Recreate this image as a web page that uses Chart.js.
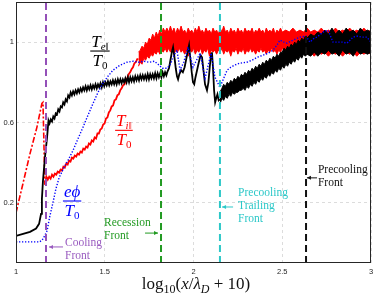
<!DOCTYPE html>
<html><head><meta charset="utf-8">
<script src="https://cdn.jsdelivr.net/npm/chart.js@4/dist/chart.umd.min.js"></script>
<style>html,body{margin:0;padding:0;background:#fff;}canvas{display:block;}</style>
</head><body>
<canvas id="c" width="374" height="295"></canvas>
<script>
// ---------- data ----------
const xTicks = [1, 1.5, 2, 2.5, 3];
const yTicks = [0.2, 0.6, 1];
const xMin = 1, xMax = 3, yMin = -0.1, yMax = 1.2;
const frontNames = ['Cooling', 'Recession', 'Precooling Trailing', 'Precooling'];
const frontX = [1.169, 1.817, 2.149, 2.634];

// electron temperature T_e|| / T0  (thin noisy part) [x, y]
const teLine = [[1.000,0.035],[1.040,0.045],[1.079,0.055],[1.113,0.072],[1.130,0.095],[1.141,0.145],[1.146,0.22],[1.152,0.31],[1.163,0.425],[1.175,0.525],[1.183,0.61],[1.189,0.595],[1.196,0.615],[1.203,0.605],[1.210,0.63],[1.217,0.62],[1.224,0.645],[1.231,0.64],[1.238,0.665],[1.245,0.655],[1.252,0.68],[1.259,0.675],[1.266,0.70],[1.273,0.69],[1.280,0.715],[1.287,0.705],[1.294,0.735],[1.301,0.725],[1.308,0.75],[1.315,0.735],[1.322,0.755],[1.329,0.74],[1.336,0.76],[1.343,0.745],[1.350,0.765],[1.357,0.75],[1.364,0.77],[1.371,0.755],[1.378,0.775],[1.385,0.76],[1.392,0.78],[1.399,0.76],[1.406,0.78],[1.413,0.765],[1.420,0.785],[1.427,0.765],[1.434,0.785],[1.441,0.77],[1.448,0.79],[1.455,0.77],[1.462,0.79],[1.469,0.775],[1.476,0.795],[1.483,0.775],[1.490,0.80],[1.497,0.78],[1.504,0.80],[1.511,0.785],[1.518,0.805],[1.525,0.785],[1.532,0.805],[1.539,0.79],[1.546,0.81],[1.553,0.79],[1.560,0.81],[1.567,0.79],[1.574,0.815],[1.581,0.795],[1.588,0.815],[1.595,0.795],[1.602,0.815],[1.609,0.80],[1.616,0.82],[1.623,0.80],[1.630,0.825],[1.637,0.80],[1.644,0.825],[1.651,0.805],[1.658,0.825],[1.665,0.805],[1.672,0.83],[1.679,0.81],[1.686,0.83],[1.693,0.81],[1.700,0.835],[1.707,0.815],[1.714,0.835],[1.721,0.815],[1.728,0.835],[1.735,0.815],[1.742,0.84],[1.749,0.815],[1.756,0.84],[1.763,0.82],[1.770,0.84],[1.777,0.82],[1.784,0.845],[1.791,0.82],[1.798,0.845],[1.805,0.825],[1.812,0.845],[1.819,0.825],[1.826,0.85],[1.833,0.83],[1.840,0.85],[1.847,0.835],[1.854,0.855],[1.862,0.87],[1.870,0.91],[1.878,0.95],[1.885,0.975],[1.892,0.93],[1.900,0.87],[1.907,0.83],[1.913,0.815],[1.920,0.84],[1.930,0.86],[1.940,0.85],[1.950,0.875],[1.960,0.92],[1.969,0.96],[1.975,0.985],[1.982,0.92],[1.990,0.85],[1.997,0.80],[2.004,0.79],[2.010,0.82],[2.020,0.86],[2.030,0.90],[2.040,0.935],[2.048,0.925],[2.056,0.86],[2.065,0.79],[2.076,0.76],[2.084,0.80],[2.092,0.88],[2.099,0.94],[2.104,0.95],[2.110,0.87],[2.116,0.76],[2.122,0.70],[2.128,0.72],[2.135,0.74],[2.142,0.71],[2.149,0.715]];

// electron temperature, thick noisy band [x, low, high]
const teBand = [[2.149,0.69,0.75],[2.16,0.72,0.77],[2.17,0.71,0.79],[2.18,0.73,0.78],[2.19,0.72,0.80],[2.20,0.74,0.79],[2.21,0.73,0.81],[2.22,0.75,0.80],[2.23,0.74,0.82],[2.24,0.75,0.81],[2.25,0.75,0.83],[2.26,0.76,0.82],[2.27,0.76,0.84],[2.28,0.77,0.83],[2.29,0.76,0.85],[2.30,0.78,0.84],[2.31,0.77,0.86],[2.32,0.79,0.85],[2.33,0.78,0.87],[2.34,0.80,0.86],[2.35,0.79,0.88],[2.36,0.81,0.87],[2.37,0.80,0.89],[2.38,0.82,0.88],[2.39,0.81,0.90],[2.40,0.83,0.89],[2.41,0.82,0.91],[2.42,0.84,0.90],[2.43,0.83,0.92],[2.44,0.85,0.91],[2.45,0.84,0.93],[2.46,0.86,0.92],[2.47,0.85,0.94],[2.48,0.87,0.93],[2.49,0.86,0.95],[2.50,0.88,0.95],[2.51,0.87,0.97],[2.52,0.89,0.96],[2.53,0.88,0.98],[2.54,0.90,0.97],[2.55,0.89,0.99],[2.56,0.91,0.98],[2.57,0.90,1.00],[2.58,0.92,0.99],[2.59,0.91,1.01],[2.60,0.93,1.00],[2.61,0.92,1.02],[2.62,0.94,1.01],[2.63,0.93,1.03],[2.64,0.94,1.02],[2.66,0.93,1.04],[2.68,0.95,1.03],[2.70,0.93,1.05],[2.72,0.95,1.04],[2.74,0.94,1.06],[2.76,0.96,1.04],[2.78,0.94,1.07],[2.80,0.95,1.04],[2.82,0.93,1.06],[2.84,0.96,1.04],[2.86,0.94,1.07],[2.88,0.95,1.05],[2.90,0.93,1.06],[2.92,0.96,1.04],[2.94,0.94,1.07],[2.96,0.95,1.05],[2.98,0.94,1.06],[3.00,0.95,1.05]];

// ion temperature T_i|| / T0, dash-dot rise [x, y]
const tiDash = [[1.000,0.15],[1.039,0.295],[1.079,0.445],[1.118,0.577],[1.146,0.695],[1.152,0.70],[1.156,0.55],[1.160,0.38],[1.163,0.29]];
// ion temperature, thin noisy part [x, y]
const tiLine = [[1.163,0.29],[1.171,0.33],[1.179,0.315],[1.187,0.33],[1.195,0.32],[1.203,0.34],[1.211,0.33],[1.219,0.345],[1.227,0.34],[1.235,0.355],[1.243,0.35],[1.251,0.365],[1.259,0.36],[1.267,0.38],[1.275,0.375],[1.283,0.395],[1.291,0.39],[1.299,0.41],[1.307,0.405],[1.315,0.425],[1.323,0.42],[1.331,0.435],[1.339,0.43],[1.347,0.445],[1.355,0.44],[1.363,0.455],[1.371,0.45],[1.379,0.47],[1.387,0.465],[1.395,0.48],[1.403,0.475],[1.411,0.495],[1.419,0.49],[1.427,0.51],[1.435,0.505],[1.443,0.525],[1.451,0.52],[1.459,0.545],[1.467,0.545],[1.475,0.565],[1.483,0.57],[1.491,0.59],[1.499,0.595],[1.507,0.62],[1.515,0.625],[1.523,0.65],[1.531,0.66],[1.539,0.68],[1.547,0.685],[1.555,0.71],[1.563,0.715],[1.571,0.735],[1.579,0.74],[1.587,0.76],[1.595,0.77],[1.603,0.785],[1.611,0.79],[1.619,0.81],[1.627,0.82],[1.635,0.84],[1.643,0.85],[1.651,0.865],[1.659,0.875],[1.667,0.895],[1.675,0.90],[1.683,0.915],[1.69,0.915]];
// ion temperature, thick noisy band [x, low, high]
const tiBand = [[1.69,0.88,0.95],[1.70,0.90,0.96],[1.71,0.89,0.98],[1.72,0.92,0.97],[1.73,0.91,1.00],[1.74,0.93,0.99],[1.75,0.92,1.02],[1.76,0.94,1.01],[1.77,0.93,1.04],[1.78,0.95,1.02],[1.79,0.94,1.05],[1.80,0.96,1.03],[1.81,0.94,1.06],[1.82,0.96,1.04],[1.83,0.95,1.07],[1.84,0.97,1.05],[1.85,0.95,1.07],[1.86,0.97,1.05],[1.87,0.95,1.08],[1.88,0.96,1.05],[1.89,0.94,1.07],[1.90,0.96,1.04],[1.91,0.95,1.07],[1.92,0.97,1.05],[1.93,0.95,1.08],[1.94,0.96,1.05],[1.95,0.94,1.06],[1.96,0.96,1.04],[1.97,0.93,1.07],[1.98,0.96,1.05],[1.99,0.95,1.06],[2.00,0.97,1.04],[2.01,0.94,1.07],[2.02,0.96,1.05],[2.03,0.95,1.08],[2.04,0.97,1.05],[2.05,0.94,1.06],[2.06,0.96,1.04],[2.07,0.95,1.07],[2.08,0.97,1.05],[2.09,0.93,1.06],[2.10,0.96,1.04],[2.11,0.95,1.07],[2.12,0.96,1.05],[2.13,0.94,1.06],[2.14,0.96,1.04],[2.15,0.95,1.07],[2.16,0.97,1.05],[2.17,0.94,1.08],[2.18,0.96,1.05],[2.19,0.95,1.06],[2.20,0.96,1.04],[2.21,0.93,1.07],[2.22,0.96,1.05],[2.23,0.95,1.06],[2.24,0.97,1.04],[2.25,0.94,1.07],[2.26,0.96,1.05],[2.27,0.95,1.06],[2.28,0.97,1.04],[2.29,0.94,1.07],[2.30,0.96,1.05],[2.31,0.95,1.06],[2.32,0.97,1.05],[2.33,0.95,1.07],[2.34,0.96,1.04],[2.35,0.94,1.06],[2.36,0.96,1.05],[2.37,0.95,1.07],[2.38,0.97,1.05],[2.39,0.95,1.06],[2.40,0.96,1.04],[2.41,0.94,1.07],[2.42,0.96,1.05],[2.43,0.95,1.06],[2.44,0.97,1.05],[2.45,0.95,1.07],[2.46,0.96,1.04],[2.47,0.94,1.06],[2.48,0.96,1.05],[2.49,0.95,1.07],[2.50,0.97,1.05],[2.52,0.94,1.06],[2.54,0.96,1.05],[2.56,0.94,1.07],[2.58,0.95,1.05],[2.60,0.93,1.06],[2.62,0.95,1.05],[2.64,0.94,1.07],[2.66,0.95,1.05],[2.68,0.93,1.06],[2.70,0.95,1.05],[2.72,0.94,1.07],[2.74,0.95,1.05],[2.76,0.93,1.06],[2.78,0.95,1.05],[2.80,0.94,1.07],[2.82,0.95,1.05],[2.84,0.93,1.06],[2.86,0.95,1.05],[2.88,0.94,1.07],[2.90,0.95,1.05],[2.92,0.93,1.06],[2.94,0.95,1.05],[2.96,0.94,1.07],[2.98,0.95,1.05],[3.00,0.94,1.06]];

// potential e*phi / T0 [x, y]
const phiLine = [[1.000,0.005],[1.130,0.005],[1.146,0.012],[1.158,0.03],[1.175,0.06],[1.190,0.13],[1.208,0.20],[1.225,0.27],[1.243,0.325],[1.270,0.375],[1.295,0.415],[1.321,0.46],[1.350,0.52],[1.377,0.575],[1.405,0.635],[1.434,0.695],[1.462,0.75],[1.490,0.795],[1.518,0.83],[1.546,0.86],[1.585,0.885],[1.625,0.90],[1.660,0.905],[1.690,0.90],[1.720,0.905],[1.750,0.90],[1.780,0.905],[1.800,0.89],[1.825,0.87],[1.851,0.87],[1.870,0.89],[1.885,0.925],[1.907,0.96],[1.924,0.86],[1.945,0.90],[1.969,0.975],[1.997,0.875],[2.037,0.945],[2.065,0.82],[2.099,0.945],[2.121,0.825],[2.149,0.775],[2.170,0.82],[2.189,0.86],[2.210,0.875],[2.230,0.885],[2.260,0.895],[2.300,0.90],[2.330,0.91],[2.360,0.925],[2.392,0.935],[2.420,0.945],[2.448,0.96],[2.470,0.985],[2.487,1.01],[2.510,1.0],[2.527,0.995],[2.560,1.01],[2.600,1.025],[2.634,1.03],[2.656,1.0],[2.680,1.02],[2.696,1.025],[2.730,1.05],[2.758,1.06],[2.786,1.0],[2.808,1.0],[2.840,1.0],[2.865,0.995],[2.899,1.025],[2.921,1.03],[2.950,1.025],[2.977,1.025],[3.000,1.0]];

// ---------- chart ----------
const pts = (arr, k) => arr.map(p => ({x: p[0], y: p[k || 1]}));
const frontColors = ['#9450b8', '#229a22', '#2cc8c8', '#111111'];
const datasets = [];
frontX.forEach((fx, i) => datasets.push({
  label: frontNames[i] + ' Front',
  data: [{x: fx, y: yMin}, {x: fx, y: yMax}],
  borderColor: frontColors[i], borderWidth: 2, borderDash: [7, 4], fill: false
}));
datasets.push({label: 'e phi/T0', data: pts(phiLine), borderColor: '#0000ff', borderWidth: 1.4, borderDash: [1.3, 1.7], fill: false});
datasets.push({label: 'Te', data: pts(teLine), borderColor: '#000', borderWidth: 1.8, fill: false});
datasets.push({label: 'Te lo', data: pts(teBand, 1), borderColor: '#000', borderWidth: 1, fill: false});
datasets.push({label: 'Te hi', data: pts(teBand, 2), borderColor: '#000', borderWidth: 1, backgroundColor: '#000', fill: '-1'});
datasets.push({label: 'Ti', data: pts(tiLine), borderColor: '#ff0000', borderWidth: 1.8, fill: false});
datasets.push({label: 'Ti dash', data: pts(tiDash), borderColor: '#ff0000', borderWidth: 1.6, borderDash: [6, 2, 2, 2], fill: false});
datasets.push({label: 'Ti lo', data: pts(tiBand, 1), borderColor: '#ff0000', borderWidth: 1, fill: false});
datasets.push({label: 'Ti hi', data: pts(tiBand, 2), borderColor: '#ff0000', borderWidth: 1, backgroundColor: '#ff0000', fill: '-1'});

const SERIF = '"Liberation Serif", "DejaVu Serif", serif';
function drawRuns(ctx, parts, x, y, align) {
  let w = 0;
  parts.forEach(p => { ctx.font = p[1]; w += ctx.measureText(p[0]).width; });
  let cx = align === 'center' ? x - w / 2 : x;
  parts.forEach(p => { ctx.font = p[1]; ctx.fillText(p[0], cx, y + (p[2] || 0)); cx += ctx.measureText(p[0]).width; });
  return w;
}
function frac(ctx, num, den, cx, barY, color) {
  ctx.fillStyle = color;
  ctx.textBaseline = 'alphabetic'; ctx.textAlign = 'left';
  const w1 = drawRuns(ctx, num, cx, barY - 4, 'center');
  const w2 = drawRuns(ctx, den, cx, barY + 15, 'center');
  const w = Math.max(w1, w2) + 2;
  ctx.fillRect(cx - w / 2, barY - 0.5, w, 1.1);
}
function arrow(ctx, x1, y1, x2, y2, color) {
  ctx.strokeStyle = color; ctx.fillStyle = color; ctx.lineWidth = 1;
  ctx.beginPath(); ctx.moveTo(x1, y1); ctx.lineTo(x2, y2); ctx.stroke();
  const dir = Math.sign(x2 - x1);
  ctx.beginPath(); ctx.moveTo(x2, y2); ctx.lineTo(x2 - dir * 4, y2 - 2); ctx.lineTo(x2 - dir * 4, y2 + 2); ctx.closePath(); ctx.fill();
}
function lines(ctx, arr, x, y, lh, color) {
  ctx.fillStyle = color; ctx.font = '11.5px ' + SERIF;
  ctx.textAlign = 'left'; ctx.textBaseline = 'alphabetic';
  arr.forEach((t, i) => ctx.fillText(t, x, y + i * lh));
}

const annot = {
  id: 'annot',
  afterDatasetsDraw(chart) {
    const {ctx, chartArea: a, scales: {x, y}} = chart;
    const X = v => x.getPixelForValue(v), Y = v => y.getPixelForValue(v);
    ctx.save();
    // frame
    ctx.strokeStyle = '#262626'; ctx.lineWidth = 1;
    ctx.strokeRect(a.left + 0.5, a.top + 0.5, a.width - 1, a.height - 1);
    const big = 'italic 17px ' + SERIF, sub = 'italic 11px ' + SERIF, subUp = '11px ' + SERIF;
    frac(ctx, [['T', big], ['e\u2016', sub, 3]], [['T', big], ['0', subUp, 3]], X(1.473), Y(0.956), '#000');
    frac(ctx, [['T', big], ['i\u2016', sub, 3]], [['T', big], ['0', subUp, 3]], X(1.608), Y(0.561), '#ff0000');
    frac(ctx, [['e\u03d5', big]], [['T', big], ['0', subUp, 3]], X(1.316), Y(0.209), '#0000ff');
    // front labels
    lines(ctx, ['Cooling', 'Front'], X(1.276), Y(-0.015), 13, '#9a5cc0');
    arrow(ctx, X(1.265), Y(-0.02), X(1.186), Y(-0.02), '#9a5cc0');
    lines(ctx, ['Recession', 'Front'], X(1.496), Y(0.084), 13, '#229a22');
    arrow(ctx, X(1.727), Y(0.049), X(1.80), Y(0.049), '#229a22');
    lines(ctx, ['Precooling', 'Trailing', 'Front'], X(2.251), Y(0.234), 13, '#2cc8c8');
    arrow(ctx, X(2.223), Y(0.179), X(2.161), Y(0.179), '#2cc8c8');
    lines(ctx, ['Precooling', 'Front'], X(2.701), Y(0.348), 13, '#111');
    arrow(ctx, X(2.696), Y(0.324), X(2.639), Y(0.324), '#111');
    // axis title
    ctx.fillStyle = '#111'; ctx.textBaseline = 'alphabetic';
    const f = '17px ' + SERIF, fi = 'italic 17px ' + SERIF, s = '12px ' + SERIF, si = 'italic 12px ' + SERIF;
    drawRuns(ctx, [['log', f], ['10', s, 4], ['(', f], ['x', fi], ['/', f], ['\u03bb', fi], ['D', si, 4], [' + 10)', f]], X(2.014), a.bottom + 26, 'center');
    ctx.restore();
  }
};

new Chart(document.getElementById('c'), {
  type: 'line',
  data: {datasets},
  options: {
    responsive: false, animation: false,
    layout: {padding: {left: 0, right: 3, top: 2, bottom: 0}},
    elements: {point: {radius: 0}, line: {tension: 0}},
    plugins: {legend: {display: false}, tooltip: {enabled: false}},
    scales: {
      x: {
        type: 'linear', min: xMin, max: xMax,
        afterBuildTicks: s => { s.ticks = xTicks.map(v => ({value: v})); },
        afterFit: s => { s.height = 32; s.paddingLeft = 0; s.paddingRight = 0; },
        ticks: {callback: v => String(v), font: {size: 7.5, family: '"Liberation Sans", Arial, sans-serif'}, color: '#262626', padding: 4, maxRotation: 0, autoSkip: false},
        grid: {color: '#dcdcdc', lineWidth: 1, drawTicks: false},
        border: {display: false, dash: [3, 3]}
      },
      y: {
        type: 'linear', min: yMin, max: yMax,
        afterBuildTicks: s => { s.ticks = yTicks.map(v => ({value: v})); },
        afterFit: s => { s.width = 16; s.paddingTop = 0; s.paddingBottom = 0; },
        ticks: {callback: v => String(v), font: {size: 7.5, family: '"Liberation Sans", Arial, sans-serif'}, color: '#262626', padding: 2, autoSkip: false},
        grid: {color: '#dcdcdc', lineWidth: 1, drawTicks: false},
        border: {display: false, dash: [3, 3]}
      }
    }
  },
  plugins: [annot]
});
</script>
</body></html>
